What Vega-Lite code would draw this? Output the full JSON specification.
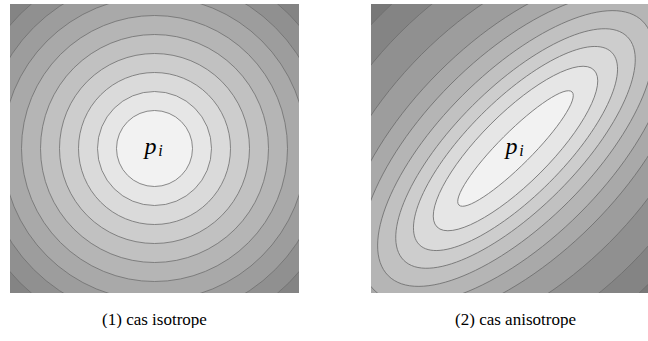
{
  "$schema": "https://vega.github.io/schema/vega-lite/v6.json",
  "padding": {"left": 10, "top": 4, "right": 0, "bottom": 0},
  "background": "white",
  "config": {"view": {"stroke": null}, "concat": {"spacing": 72}},
  "datasets": {
    "iso": [
      {"level": 0, "cx": 0, "cy": 0, "a": 2},
      {"level": 1, "cx": 0, "cy": 0, "a": 3},
      {"level": 2, "cx": 0, "cy": 0, "a": 4},
      {"level": 3, "cx": 0, "cy": 0, "a": 5},
      {"level": 4, "cx": 0, "cy": 0, "a": 6},
      {"level": 5, "cx": 0, "cy": 0, "a": 7},
      {"level": 6, "cx": 0, "cy": 0, "a": 8},
      {"level": 7, "cx": 0, "cy": 0, "a": 9},
      {"level": 8, "cx": 0, "cy": 0, "a": 10}
    ],
    "aniso": [
      {"level": 0, "cx": 0, "cy": 0, "a": 4.21, "b": 0.87},
      {"level": 1, "cx": 0, "cy": 0, "a": 5.84, "b": 1.83},
      {"level": 2, "cx": 0, "cy": 0, "a": 7.16, "b": 2.53},
      {"level": 3, "cx": 0, "cy": 0, "a": 8.32, "b": 3.19},
      {"level": 4, "cx": 0, "cy": 0, "a": 9.47, "b": 3.95},
      {"level": 5, "cx": 0, "cy": 0, "a": 10.53, "b": 4.8},
      {"level": 6, "cx": 0, "cy": 0, "a": 11.58, "b": 5.7},
      {"level": 7, "cx": 0, "cy": 0, "a": 12.63, "b": 7.0},
      {"level": 8, "cx": 0, "cy": 0, "a": 13.68, "b": 8.6},
      {"level": 9, "cx": 0, "cy": 0, "a": 14.74, "b": 10.0}
    ],
    "label": [{"cx": 0, "cy": 0, "main": "p", "sub": "i"}]
  },
  "resolve": {"scale": {"x": "independent", "y": "independent"}},
  "hconcat": [
    {
      "width": 289,
      "height": 289,
      "view": {"fill": "#848484", "stroke": null},
      "title": {"text": "(1) cas isotrope", "orient": "bottom", "font": "Liberation Serif", "fontSize": 17, "fontWeight": "normal", "color": "black", "offset": 19},
      "layer": [
        {
          "data": {"name": "iso"},
          "mark": {"type": "point", "shape": "circle", "filled": true, "opacity": 1, "clip": true, "stroke": "#6e6e6e", "strokeWidth": 0.8},
          "encoding": {
            "x": {"field": "cx", "type": "quantitative", "scale": {"domain": [-7.6, 7.6]}, "axis": null},
            "y": {"field": "cy", "type": "quantitative", "scale": {"domain": [-7.6, 7.6]}, "axis": null},
            "size": {"field": "a", "type": "quantitative", "scale": {"type": "pow", "exponent": 2, "domain": [0, 10], "range": [0, 144400]}, "legend": null},
            "fill": {"field": "level", "type": "ordinal", "scale": {"domain": [0,1,2,3,4,5,6,7,8,9,10,11,12], "range": ["#f2f2f2","#e6e6e6","#dadada","#cdcdcd","#c1c1c1","#b5b5b5","#a9a9a9","#9d9d9d","#909090","#848484","#787878","#6c6c6c","#606060"]}, "legend": null},
            "order": {"field": "level", "sort": "descending"}
          }
        },
        {
          "data": {"name": "label"},
          "mark": {"type": "text", "font": "Liberation Serif", "fontStyle": "italic", "fontSize": 24, "align": "center", "baseline": "alphabetic", "dx": -4, "dy": 5, "color": "black"},
          "encoding": {
            "x": {"field": "cx", "type": "quantitative"},
            "y": {"field": "cy", "type": "quantitative"},
            "text": {"field": "main"}
          }
        },
        {
          "data": {"name": "label"},
          "mark": {"type": "text", "font": "Liberation Serif", "fontStyle": "italic", "fontSize": 16, "align": "center", "baseline": "alphabetic", "dx": 6, "dy": 7, "color": "black"},
          "encoding": {
            "x": {"field": "cx", "type": "quantitative"},
            "y": {"field": "cy", "type": "quantitative"},
            "text": {"field": "sub"}
          }
        }
      ]
    },
    {
      "width": 289,
      "height": 289,
      "view": {"fill": "#787878", "stroke": null},
      "title": {"text": "(2) cas anisotrope", "orient": "bottom", "font": "Liberation Serif", "fontSize": 17, "fontWeight": "normal", "color": "black", "offset": 19},
      "layer": [
        {
          "data": {"name": "aniso"},
          "mark": {"type": "point", "filled": true, "opacity": 1, "clip": true, "angle": 315, "stroke": "#6e6e6e", "strokeWidth": 0.8},
          "encoding": {
            "x": {"field": "cx", "type": "quantitative", "scale": {"domain": [-7.6, 7.6]}, "axis": null},
            "y": {"field": "cy", "type": "quantitative", "scale": {"domain": [-7.6, 7.6]}, "axis": null},
            "size": {"field": "a", "type": "quantitative", "scale": {"type": "pow", "exponent": 2, "domain": [0, 10], "range": [0, 144400]}, "legend": null},
            "shape": {"field": "level", "type": "ordinal", "scale": {"domain": [0,1,2,3,4,5,6,7,8,9], "range": [
              "M-1,0A1,0.207 0 1,0 1,0A1,0.207 0 1,0 -1,0Z",
              "M-1,0A1,0.313 0 1,0 1,0A1,0.313 0 1,0 -1,0Z",
              "M-1,0A1,0.353 0 1,0 1,0A1,0.353 0 1,0 -1,0Z",
              "M-1,0A1,0.384 0 1,0 1,0A1,0.384 0 1,0 -1,0Z",
              "M-1,0A1,0.417 0 1,0 1,0A1,0.417 0 1,0 -1,0Z",
              "M-1,0A1,0.456 0 1,0 1,0A1,0.456 0 1,0 -1,0Z",
              "M-1,0A1,0.492 0 1,0 1,0A1,0.492 0 1,0 -1,0Z",
              "M-1,0A1,0.554 0 1,0 1,0A1,0.554 0 1,0 -1,0Z",
              "M-1,0A1,0.629 0 1,0 1,0A1,0.629 0 1,0 -1,0Z",
              "M-1,0A1,0.678 0 1,0 1,0A1,0.678 0 1,0 -1,0Z"
            ]}, "legend": null},
            "fill": {"field": "level", "type": "ordinal", "scale": {"domain": [0,1,2,3,4,5,6,7,8,9,10,11,12], "range": ["#f2f2f2","#e6e6e6","#dadada","#cdcdcd","#c1c1c1","#b5b5b5","#a9a9a9","#9d9d9d","#909090","#848484","#787878","#6c6c6c","#606060"]}, "legend": null},
            "order": {"field": "level", "sort": "descending"}
          }
        },
        {
          "data": {"name": "label"},
          "mark": {"type": "text", "font": "Liberation Serif", "fontStyle": "italic", "fontSize": 24, "align": "center", "baseline": "alphabetic", "dx": -4, "dy": 5, "color": "black"},
          "encoding": {
            "x": {"field": "cx", "type": "quantitative"},
            "y": {"field": "cy", "type": "quantitative"},
            "text": {"field": "main"}
          }
        },
        {
          "data": {"name": "label"},
          "mark": {"type": "text", "font": "Liberation Serif", "fontStyle": "italic", "fontSize": 16, "align": "center", "baseline": "alphabetic", "dx": 6, "dy": 7, "color": "black"},
          "encoding": {
            "x": {"field": "cx", "type": "quantitative"},
            "y": {"field": "cy", "type": "quantitative"},
            "text": {"field": "sub"}
          }
        }
      ]
    }
  ]
}
